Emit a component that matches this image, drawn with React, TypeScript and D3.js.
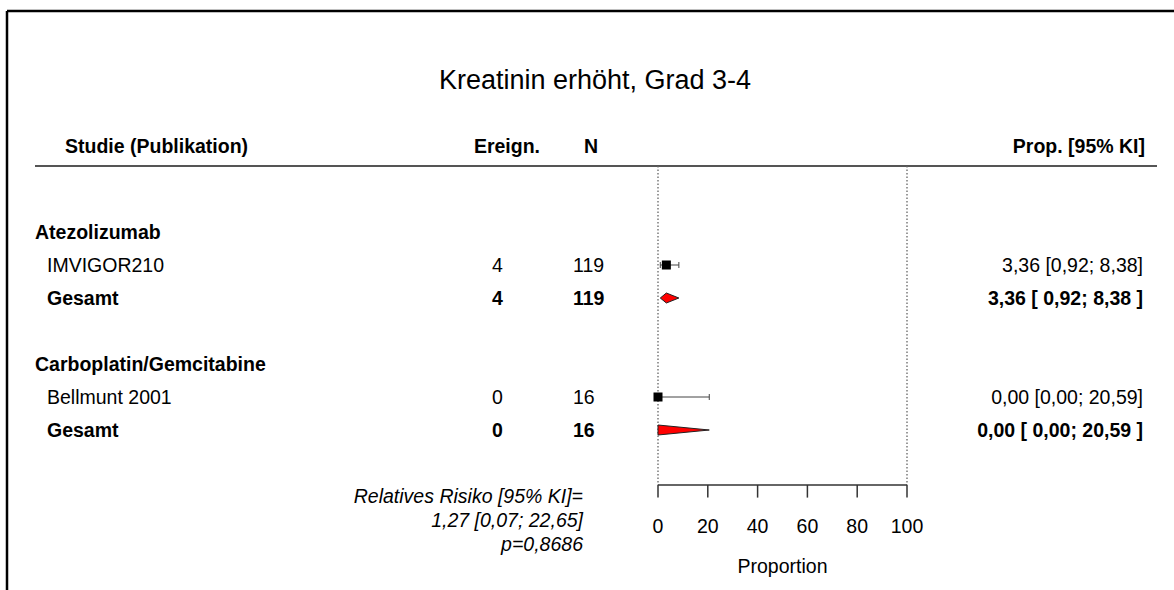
import React from "react";
import * as d3 from "d3";

const title = "Kreatinin erhöht, Grad 3-4";
const groups = ["Atezolizumab", "Carboplatin/Gemcitabine"];
const studies = ["IMVIGOR210", "Bellmunt 2001"];
const events = [4, 0];
const totals = [119, 16];
const props = [3.36, 0.0];
const lowers = [0.92, 0.0];
const uppers = [8.38, 20.59];
const pooledEvents = [4, 0];
const pooledTotals = [119, 16];
const pooledProps = [3.36, 0.0];
const pooledLowers = [0.92, 0.0];
const pooledUppers = [8.38, 20.59];
const axisTicks = [0, 20, 40, 60, 80, 100];
const headers = ["Studie (Publikation)", "Ereign.", "N", "Prop. [95% KI]"];
const testLines = ["Relatives Risiko [95% KI]=", "1,27 [0,07; 22,65]", "p=0,8686"];
const axisLabel = "Proportion";

const W = 1174;
const H = 590;
const FONT = "'Liberation Sans', Arial, Helvetica, sans-serif";
const FS = 19.5;

const de = d3.formatLocale({ decimal: ",", thousands: ".", grouping: [3], currency: ["", "€"] });
const f2 = de.format(".2f");

export default function App() {
  const x = d3.scaleLinear().domain([0, 100]).range([658, 907]);
  const y = d3.scaleLinear().domain([0, 6]).range([232, 430]);
  const axisY = 485;
  const topY = 166;
  const dy = 7;

  const rows: React.ReactNode[] = [];
  groups.forEach((g, i) => {
    const gy = y(i * 4);
    const sy = y(i * 4 + 1);
    const py = y(i * 4 + 2);
    rows.push(
      <text key={"g" + i} x={35} y={gy + dy} fontWeight="bold">{g}</text>,
      <text key={"s" + i} x={47} y={sy + dy}>{studies[i]}</text>,
      <text key={"se" + i} x={492} y={sy + dy}>{events[i]}</text>,
      <text key={"sn" + i} x={573} y={sy + dy}>{totals[i]}</text>,
      <text key={"sc" + i} x={1143} y={sy + dy} textAnchor="end">
        {`${f2(props[i])} [${f2(lowers[i])}; ${f2(uppers[i])}]`}
      </text>,
      <text key={"p" + i} x={47} y={py + dy} fontWeight="bold">Gesamt</text>,
      <text key={"pe" + i} x={492} y={py + dy} fontWeight="bold">{pooledEvents[i]}</text>,
      <text key={"pn" + i} x={573} y={py + dy} fontWeight="bold">{pooledTotals[i]}</text>,
      <text key={"pc" + i} x={1143} y={py + dy} textAnchor="end" fontWeight="bold">
        {`${f2(pooledProps[i])} [ ${f2(pooledLowers[i])}; ${f2(pooledUppers[i])} ]`}
      </text>
    );
    const x1 = x(lowers[i]);
    const x2 = x(uppers[i]);
    rows.push(
      <g key={"ci" + i} stroke="#444" strokeWidth={1}>
        <line x1={x1} x2={x2} y1={sy} y2={sy} />
        <line x1={x1} x2={x1} y1={sy - 3} y2={sy + 3} />
        <line x1={x2} x2={x2} y1={sy - 3} y2={sy + 3} />
      </g>,
      <rect key={"sq" + i} x={x(props[i]) - 4.5} y={sy - 4.5} width={9} height={9} fill="#000" />
    );
    const dl = x(pooledLowers[i]);
    const dc = x(pooledProps[i]);
    const du = x(pooledUppers[i]);
    const h = 5;
    rows.push(
      <path
        key={"dia" + i}
        d={`M${dl},${py}L${dc},${py - h}L${du},${py}L${dc},${py + h}Z`}
        fill="#ff0000"
        stroke="#222"
        strokeWidth={1}
      />
    );
  });

  return (
    <svg width={W} height={H} style={{ position: "absolute", left: 0, top: 0, background: "#fff" }}
      fontFamily={FONT} fontSize={FS}>
      <rect x={0} y={0} width={W} height={H} fill="#fff" />
      <line x1={7} x2={W} y1={11} y2={11} stroke="#000" strokeWidth={2.5} />
      <line x1={7} x2={7} y1={11} y2={H} stroke="#000" strokeWidth={2.5} />
      <text x={595} y={89} textAnchor="middle" fontSize={27}>{title}</text>
      <text x={65} y={153} fontWeight="bold">{headers[0]}</text>
      <text x={540} y={153} fontWeight="bold" textAnchor="end">{headers[1]}</text>
      <text x={584} y={153} fontWeight="bold">{headers[2]}</text>
      <text x={1145} y={153} fontWeight="bold" textAnchor="end">{headers[3]}</text>
      <line x1={35} x2={1157} y1={topY} y2={topY} stroke="#555" strokeWidth={2} />
      {[0, 100].map((v) => (
        <line key={v} x1={x(v)} x2={x(v)} y1={topY} y2={axisY} stroke="#666" strokeWidth={1.3} strokeDasharray="1.5,2" />
      ))}
      {rows}
      <g>
        <line x1={x(0)} x2={x(100)} y1={axisY} y2={axisY} stroke="#333" strokeWidth={1.5} />
        {axisTicks.map((t) => (
          <g key={t}>
            <line x1={x(t)} x2={x(t)} y1={axisY} y2={axisY + 12.6} stroke="#333" strokeWidth={1.5} />
            <text x={x(t)} y={axisY + 48} textAnchor="middle">{t}</text>
          </g>
        ))}
        <text x={x(50)} y={axisY + 88} textAnchor="middle">{axisLabel}</text>
      </g>
      {testLines.map((t, i) => (
        <text key={i} x={583} y={503 + i * 24} textAnchor="end" fontStyle="italic">{t}</text>
      ))}
    </svg>
  );
}
